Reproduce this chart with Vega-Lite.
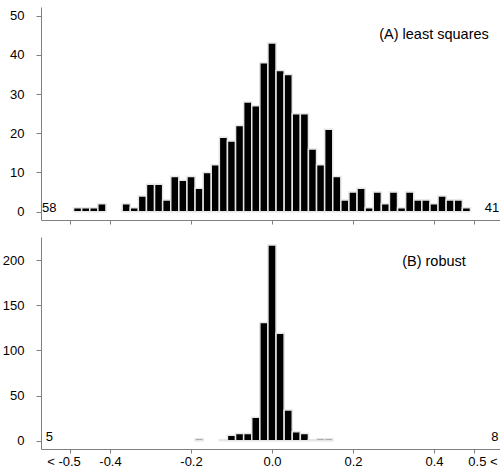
{
  "$schema": "https://vega.github.io/schema/vega-lite/v6.json",
  "padding": {"left": 2, "top": 7, "right": 0, "bottom": 0},
  "config": {
    "font": "Liberation Sans",
    "view": {"stroke": null},
    "axis": {"grid": false, "domainColor": "#808080", "tickColor": "#808080", "labelColor": "#000000", "labelFontSize": 13, "labelFont": "Liberation Sans", "title": null},
    "axisY": {"labelPadding": 12, "tickSize": 5},
    "axisX": {"tickSize": 4},
    "concat": {"spacing": 12}
  },
  "datasets": {
    "lsq": [
      {"lo": -0.49, "hi": -0.47, "count": 1},
      {"lo": -0.47, "hi": -0.45, "count": 1},
      {"lo": -0.45, "hi": -0.43, "count": 1},
      {"lo": -0.43, "hi": -0.41, "count": 2},
      {"lo": -0.37, "hi": -0.35, "count": 2},
      {"lo": -0.35, "hi": -0.33, "count": 1},
      {"lo": -0.33, "hi": -0.31, "count": 4},
      {"lo": -0.31, "hi": -0.29, "count": 7},
      {"lo": -0.29, "hi": -0.27, "count": 7},
      {"lo": -0.27, "hi": -0.25, "count": 3},
      {"lo": -0.25, "hi": -0.23, "count": 9},
      {"lo": -0.23, "hi": -0.21, "count": 8},
      {"lo": -0.21, "hi": -0.19, "count": 9},
      {"lo": -0.19, "hi": -0.17, "count": 6},
      {"lo": -0.17, "hi": -0.15, "count": 10},
      {"lo": -0.15, "hi": -0.13, "count": 12},
      {"lo": -0.13, "hi": -0.11, "count": 19},
      {"lo": -0.11, "hi": -0.09, "count": 18},
      {"lo": -0.09, "hi": -0.07, "count": 22},
      {"lo": -0.07, "hi": -0.05, "count": 28},
      {"lo": -0.05, "hi": -0.03, "count": 27},
      {"lo": -0.03, "hi": -0.01, "count": 38},
      {"lo": -0.01, "hi": 0.01, "count": 43},
      {"lo": 0.01, "hi": 0.03, "count": 36},
      {"lo": 0.03, "hi": 0.05, "count": 35},
      {"lo": 0.05, "hi": 0.07, "count": 25},
      {"lo": 0.07, "hi": 0.09, "count": 25},
      {"lo": 0.09, "hi": 0.11, "count": 16},
      {"lo": 0.11, "hi": 0.13, "count": 12},
      {"lo": 0.13, "hi": 0.15, "count": 21},
      {"lo": 0.15, "hi": 0.17, "count": 9},
      {"lo": 0.17, "hi": 0.19, "count": 3},
      {"lo": 0.19, "hi": 0.21, "count": 5},
      {"lo": 0.21, "hi": 0.23, "count": 6},
      {"lo": 0.23, "hi": 0.25, "count": 1},
      {"lo": 0.25, "hi": 0.27, "count": 5},
      {"lo": 0.27, "hi": 0.29, "count": 2},
      {"lo": 0.29, "hi": 0.31, "count": 5},
      {"lo": 0.31, "hi": 0.33, "count": 1},
      {"lo": 0.33, "hi": 0.35, "count": 5},
      {"lo": 0.35, "hi": 0.37, "count": 3},
      {"lo": 0.37, "hi": 0.39, "count": 3},
      {"lo": 0.39, "hi": 0.41, "count": 2},
      {"lo": 0.41, "hi": 0.43, "count": 4},
      {"lo": 0.43, "hi": 0.45, "count": 3},
      {"lo": 0.45, "hi": 0.47, "count": 3},
      {"lo": 0.47, "hi": 0.49, "count": 1}
    ],
    "robust": [
      {"lo": -0.19, "hi": -0.17, "count": 2},
      {"lo": -0.13, "hi": -0.11, "count": 1},
      {"lo": -0.11, "hi": -0.09, "count": 6},
      {"lo": -0.09, "hi": -0.07, "count": 8},
      {"lo": -0.07, "hi": -0.05, "count": 8},
      {"lo": -0.05, "hi": -0.03, "count": 26},
      {"lo": -0.03, "hi": -0.01, "count": 131},
      {"lo": -0.01, "hi": 0.01, "count": 217},
      {"lo": 0.01, "hi": 0.03, "count": 119},
      {"lo": 0.03, "hi": 0.05, "count": 34},
      {"lo": 0.05, "hi": 0.07, "count": 10},
      {"lo": 0.07, "hi": 0.09, "count": 8},
      {"lo": 0.09, "hi": 0.11, "count": 1},
      {"lo": 0.11, "hi": 0.13, "count": 2},
      {"lo": 0.13, "hi": 0.15, "count": 2}
    ]
  },
  "vconcat": [
    {
      "width": 459,
      "height": 213,
      "layer": [
        {
          "data": {"name": "lsq"},
          "mark": {"type": "bar", "fill": "#000000", "stroke": "#e6e6e6", "strokeWidth": 1.5},
          "encoding": {
            "x": {"field": "lo", "type": "quantitative", "scale": {"domain": [-0.5704, 0.563], "nice": false, "zero": false},
                  "axis": {"values": [-0.5, -0.4, -0.2, 0, 0.2, 0.4, 0.5], "labels": false, "tickSize": 4}},
            "x2": {"field": "hi"},
            "y": {"field": "count", "type": "quantitative", "scale": {"domain": [-2.12, 52.2], "nice": false, "zero": false},
                  "axis": {"values": [0, 10, 20, 30, 40, 50], "tickSize": 5, "labelPadding": 12}},
            "y2": {"datum": 0}
          }
        },
        {
          "mark": {"type": "rule", "color": "#808080"},
          "encoding": {"y": {"datum": 52.2}}
        },
        {
          "data": {"values": [{"x": -0.55, "y": 0, "t": "58"}, {"x": 0.543, "y": 0, "t": "41"}]},
          "mark": {"type": "text", "fontSize": 13, "baseline": "alphabetic", "align": "center", "color": "#000000"},
          "encoding": {"x": {"field": "x", "type": "quantitative"}, "y": {"field": "y", "type": "quantitative"}, "text": {"field": "t"}}
        },
        {
          "data": {"values": [{"x": 0.40, "y": 44.1, "t": "(A) least squares"}]},
          "mark": {"type": "text", "fontSize": 14.5, "baseline": "alphabetic", "align": "center", "color": "#000000"},
          "encoding": {"x": {"field": "x", "type": "quantitative"}, "y": {"field": "y", "type": "quantitative"}, "text": {"field": "t"}}
        }
      ]
    },
    {
      "width": 459,
      "height": 212,
      "layer": [
        {
          "data": {"name": "robust"},
          "mark": {"type": "bar", "fill": "#000000", "stroke": "#e6e6e6", "strokeWidth": 1.5},
          "encoding": {
            "x": {"field": "lo", "type": "quantitative", "scale": {"domain": [-0.5704, 0.563], "nice": false, "zero": false},
                  "axis": {"values": [-0.5, -0.4, -0.2, 0, 0.2, 0.4, 0.5], "tickSize": 4, "labelPadding": 2,
                           "labelExpr": "datum.value == -0.5 ? '< -0.5' : datum.value == 0.5 ? '0.5 <' : (datum.value < 0 ? '-' : '') + format(abs(datum.value), '.1f')",
                           "labelOffset": {"condition": [{"test": "datum.value == -0.5", "value": -6}, {"test": "datum.value == 0.5", "value": 8}], "value": 0}}},
            "x2": {"field": "hi"},
            "y": {"field": "count", "type": "quantitative", "scale": {"domain": [-9.2, 225.8], "nice": false, "zero": false},
                  "axis": {"values": [0, 50, 100, 150, 200], "tickSize": 5, "labelPadding": 12}},
            "y2": {"datum": 0}
          }
        },
        {
          "mark": {"type": "rule", "color": "#808080"},
          "encoding": {"y": {"datum": 225.8}}
        },
        {
          "data": {"values": [{"x": -0.55, "y": 0, "t": "5"}, {"x": 0.55, "y": 0, "t": "8"}]},
          "mark": {"type": "text", "fontSize": 13, "baseline": "alphabetic", "align": "center", "color": "#000000"},
          "encoding": {"x": {"field": "x", "type": "quantitative"}, "y": {"field": "y", "type": "quantitative"}, "text": {"field": "t"}}
        },
        {
          "data": {"values": [{"x": 0.40, "y": 193.9, "t": "(B) robust"}]},
          "mark": {"type": "text", "fontSize": 14.5, "baseline": "alphabetic", "align": "center", "color": "#000000"},
          "encoding": {"x": {"field": "x", "type": "quantitative"}, "y": {"field": "y", "type": "quantitative"}, "text": {"field": "t"}}
        }
      ]
    }
  ]
}
